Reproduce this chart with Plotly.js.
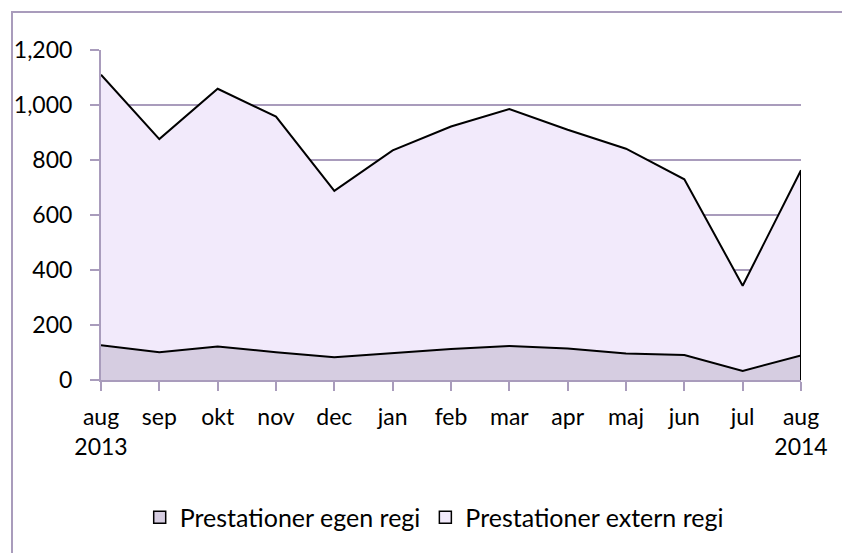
<!DOCTYPE html>
<html>
<head>
<meta charset="utf-8">
<script src="https://cdn.plot.ly/plotly-3.0.1.min.js"></script>
<style>
  html, body { margin: 0; padding: 0; background: #ffffff; }
  #frame { position: absolute; left: 11px; top: 11px; width: 900px; height: 600px;
           border-left: 2px solid #a99cbc; border-top: 2px solid #a99cbc; box-sizing: border-box; }
  #chart { position: absolute; left: 0; top: 0; width: 842px; height: 553px; }
</style>
</head>
<body>
<div id="frame"></div>
<div id="chart"></div>
<script>
// Month labels (x axis)
const categories = ["aug<br>2013", "sep", "okt", "nov", "dec", "jan", "feb", "mar", "apr", "maj", "jun", "jul", "aug<br>2014"];
// Series values (stacked)
const egenRegi   = [126, 101, 122, 101, 83, 98, 113, 124, 115, 96, 91, 33, 89];
const externRegi = [984, 775, 937, 857, 605, 737, 809, 861, 795, 745, 639, 310, 674];
const seriesNames = ["Prestationer egen regi", "Prestationer extern regi"];
const seriesColors = ["#d6cde1", "#f2eafb"];
const yTicks = [0, 200, 400, 600, 800, 1000, 1200];

const idx = categories.map((_, i) => i);
const lastI = idx.length - 1;
const lastTotal = egenRegi[lastI] + externRegi[lastI];

const traces = [
  {
    x: idx, y: egenRegi, name: seriesNames[0], type: "scatter", mode: "lines",
    stackgroup: "one", fillcolor: seriesColors[0], showlegend: false,
    line: { color: "#000000", width: 2 }
  },
  {
    x: idx, y: externRegi, name: seriesNames[1], type: "scatter", mode: "lines",
    stackgroup: "one", fillcolor: seriesColors[1], showlegend: false,
    line: { color: "#000000", width: 2 }
  },
  {
    x: [idx[lastI], idx[lastI]], y: [0, lastTotal], type: "scatter", mode: "lines",
    line: { color: "#000000", width: 2 }, showlegend: false, hoverinfo: "skip"
  },
  // legend entries with square swatches (drawn on a hidden axis, outside its range)
  {
    x: [idx[0]], y: [1], type: "bar", name: seriesNames[0], yaxis: "y2",
    marker: { color: seriesColors[0], line: { color: "#000000", width: 1.5 } }, hoverinfo: "skip"
  },
  {
    x: [idx[0]], y: [1], type: "bar", name: seriesNames[1], yaxis: "y2",
    marker: { color: seriesColors[1], line: { color: "#000000", width: 1.5 } }, hoverinfo: "skip"
  }
];

const gridCol = "#a99cbc";
const fs = 23;
const layout = {
  width: 842, height: 553,
  paper_bgcolor: "rgba(0,0,0,0)", plot_bgcolor: "rgba(0,0,0,0)",
  margin: { l: 101, r: 41, t: 50, b: 170 },
  font: { family: "Lato, 'Open Sans', sans-serif", size: fs, color: "#000000" },
  showlegend: true,
  legend: {
    orientation: "h", x: 0.476, xanchor: "center", y: -0.417, yanchor: "middle",
    font: { size: 25, color: "#000000" }, traceorder: "normal", itemwidth: 30
  },
  xaxis: {
    range: [0, lastI], tickvals: idx, ticktext: categories,
    showline: true, linecolor: gridCol, linewidth: 2,
    ticks: "outside", ticklen: 9, tickcolor: gridCol, tickwidth: 2,
    showgrid: false, zeroline: false, fixedrange: true, ticklabelstandoff: 6,
    tickfont: { size: fs }
  },
  yaxis: {
    range: [0, 1200], tickvals: yTicks, ticktext: yTicks.map(v => v.toLocaleString("en-US")),
    showline: true, linecolor: gridCol, linewidth: 2,
    ticks: "outside", ticklen: 9, tickcolor: gridCol, tickwidth: 2,
    showgrid: true, gridcolor: gridCol, gridwidth: 2,
    zeroline: false, fixedrange: true, ticklabelstandoff: 13,
    tickfont: { size: fs }
  },
  yaxis2: {
    overlaying: "y", range: [5, 6], visible: false, fixedrange: true
  }
};

Plotly.newPlot("chart", traces, layout, { displayModeBar: false, staticPlot: true });
</script>
</body>
</html>
